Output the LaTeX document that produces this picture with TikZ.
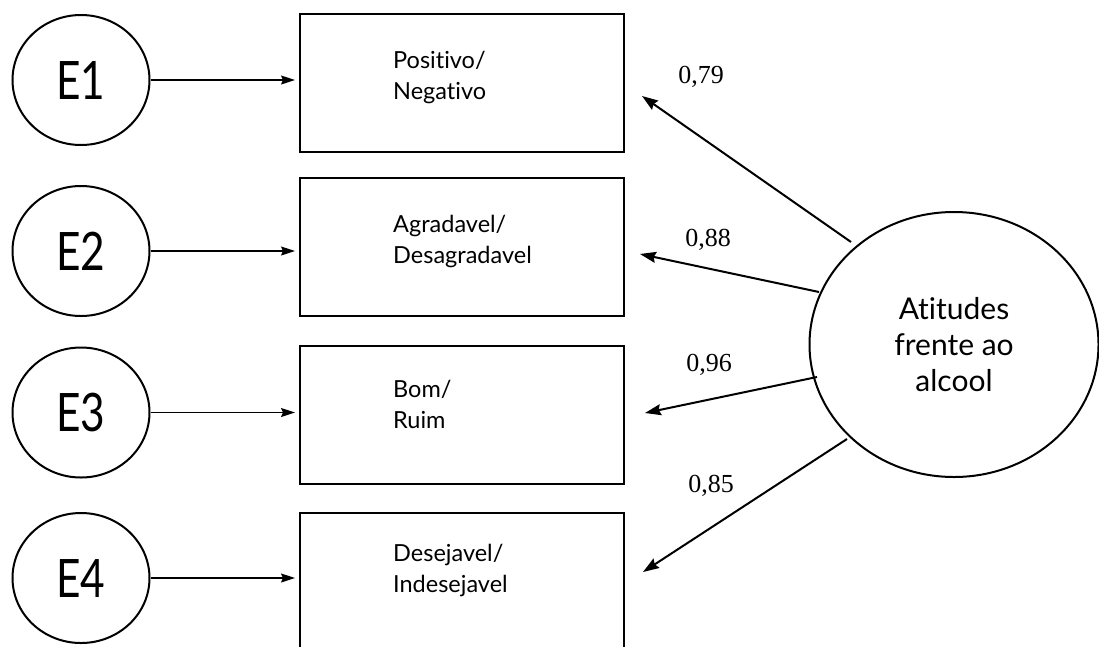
\documentclass[tikz,border=0pt]{standalone}
\usepackage{fontspec}
\setmainfont{Lato}[Ligatures={NoCommon}]
\newfontfamily\numfont{Liberation Serif}
\usetikzlibrary{arrows.meta,shapes.geometric}
\begin{document}
\begin{tikzpicture}[x=1pt,y=-1pt,
  errnode/.style={draw,line width=2pt,ellipse,inner sep=0pt,minimum width=137pt,minimum height=130pt,
    font=\fontsize{53}{60}\selectfont},
  itembox/.style={draw,line width=2pt,rectangle,inner sep=0pt,minimum width=324pt,minimum height=138pt},
  itemtext/.style={anchor=west,align=left,inner sep=0pt,font=\fontsize{23.5}{31}\selectfont},
  latent/.style={draw,line width=2pt,ellipse,inner sep=0pt,minimum width=289pt,minimum height=265pt,
    align=center,font=\fontsize{30}{36}\selectfont},
  thinarrow/.style={line width=1.2pt,-{Stealth[length=14pt,width=9pt,inset=2pt]},shorten >=4pt},
  loadarrow/.style={line width=2pt,-{Stealth[length=16pt,width=11pt,inset=2pt]}},
  loadlabel/.style={inner sep=0pt,font=\numfont\fontsize{26}{30}\selectfont}]
\useasboundingbox (0,0) rectangle (1099,646);
\clip (0,0) rectangle (1099,646);

% error terms
\node[errnode] (E1) at (81,80) {\scalebox{0.8}[1]{E1}};
\node[errnode] (E2) at (81,251) {\scalebox{0.8}[1]{E2}};
\node[errnode] (E3) at (81,412.5) {\scalebox{0.8}[1]{E3}};
\node[errnode] (E4) at (81,578) {\scalebox{0.8}[1]{E4}};

% indicator boxes
\node[itembox] (b1) at (462,83) {};
\node[itembox] (b2) at (462,247) {};
\node[itembox] (b3) at (462,414.5) {};
\node[itembox] (b4) at (462,582) {};

\node[itemtext] (t1) at (393,77) {Positivo/\\Negativo};
\node[itemtext] (t2) at (393,241) {Agradavel/\\Desagradavel};
\node[itemtext] (t3) at (393,404) {Bom/\\Ruim};
\node[itemtext] (t4) at (393,570) {Desejavel/\\Indesejavel};

% latent variable
\node[latent] (A) at (954,344.5) {Atitudes\\frente ao\\alcool};

% error arrows
\draw[thinarrow] (E1.east) -- (E1.east -| b1.west);
\draw[thinarrow] (E2.east) -- (E2.east -| b2.west);
\draw[thinarrow] (E3.east) -- (E3.east -| b3.west);
\draw[thinarrow] (E4.east) -- (E4.east -| b4.west);

% loading arrows
\coordinate (s1) at (851,242);
\coordinate (s2) at (819,292);
\coordinate (s3) at (817,377);
\coordinate (s4) at (847,439);
\coordinate (f1) at (642,96);
\coordinate (f2) at (640,254);
\coordinate (f3) at (645,413);
\coordinate (f4) at (643,572);
\draw[loadarrow] (s1) -- (f1);
\draw[loadarrow] (s2) -- (f2);
\draw[loadarrow] (s3) -- (f3);
\draw[loadarrow] (s4) -- (f4);

\node[loadlabel] (l1) at (701,77) {0,79};
\node[loadlabel] (l2) at (708,240) {0,88};
\node[loadlabel] (l3) at (709,365) {0,96};
\node[loadlabel] (l4) at (711,486) {0,85};
\end{tikzpicture}
\end{document}
